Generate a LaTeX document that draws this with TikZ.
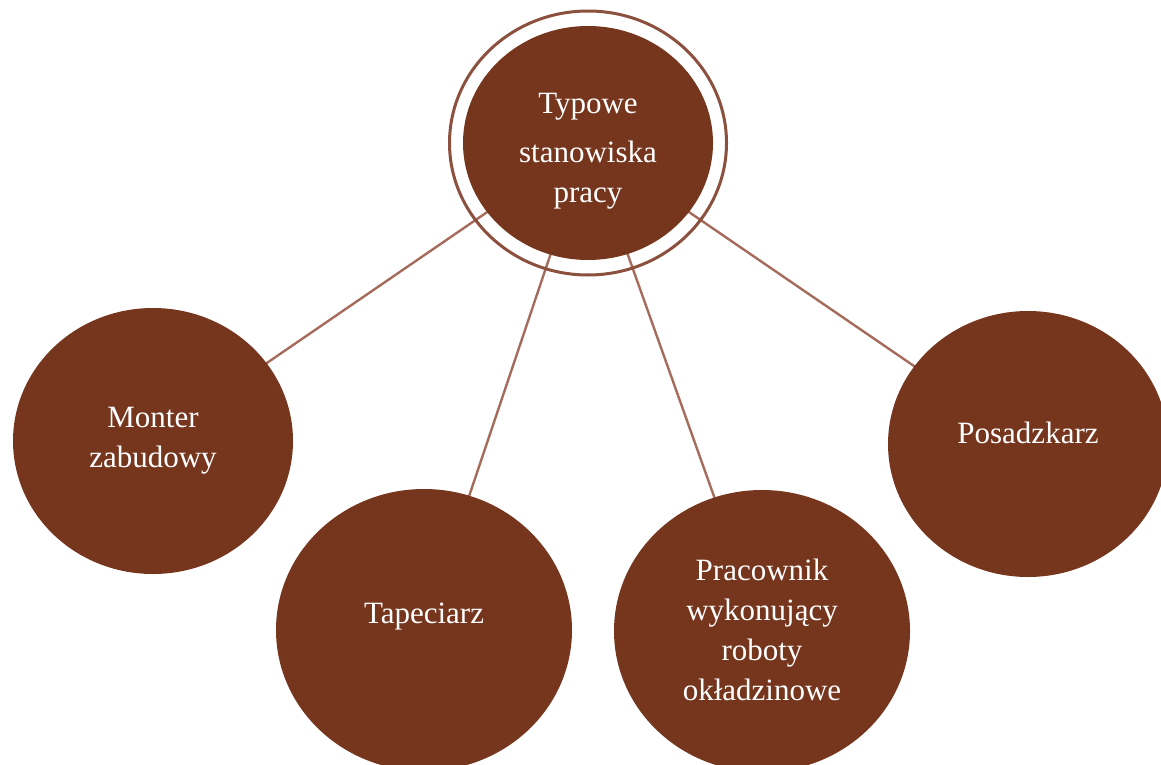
\documentclass[tikz,border=0pt]{standalone}
\usepackage{fontspec}
\setmainfont{Liberation Serif}
\usetikzlibrary{shapes.geometric,backgrounds}
\definecolor{nodebrown}{RGB}{118,54,30}
\definecolor{linkbrown}{RGB}{165,108,92}
\definecolor{ringbrown}{RGB}{140,80,62}
\tikzset{
  bubble/.style={ellipse, fill=nodebrown, draw=none, text=white, inner sep=0pt,
    align=center, font=\fontsize{31}{40}\selectfont},
  small/.style={bubble, minimum width=280pt, minimum height=266pt},
  large/.style={bubble, minimum width=296pt, minimum height=282pt},
  link/.style={draw=linkbrown, line width=2.4pt},
  ring/.style={draw=ringbrown, line width=3pt}
}
\begin{document}
\begin{tikzpicture}[x=1pt,y=-1pt]
\useasboundingbox (0,0) rectangle (1161,765);
\node[bubble, minimum width=250pt, minimum height=234pt, text height=118pt, text depth=0pt]
  (top) at (588,143) {Typowe\\[9pt]stanowiska\\pracy};
\draw[ring] (top.center) ellipse [x radius=138.5, y radius=132];
\node[small, text height=52pt, text depth=0pt] (monter) at (153,441) {Monter\\zabudowy};
\node[large, text height=0pt, text depth=14pt] (tapeciarz) at (424,630) {Tapeciarz};
\node[large, text height=138pt, text depth=0pt] (pracownik) at (762,631)
  {Pracownik\\wykonujący\\roboty\\okładzinowe};
\node[small, text height=0pt, text depth=2pt] (posadzkarz) at (1028,444) {Posadzkarz};
\begin{scope}[on background layer]
  \draw[link] (top.center) -- (monter.center);
  \draw[link] (top.center) -- (tapeciarz.center);
  \draw[link] (top.center) -- (pracownik.center);
  \draw[link] (top.center) -- (posadzkarz.center);
\end{scope}
\end{tikzpicture}
\end{document}
